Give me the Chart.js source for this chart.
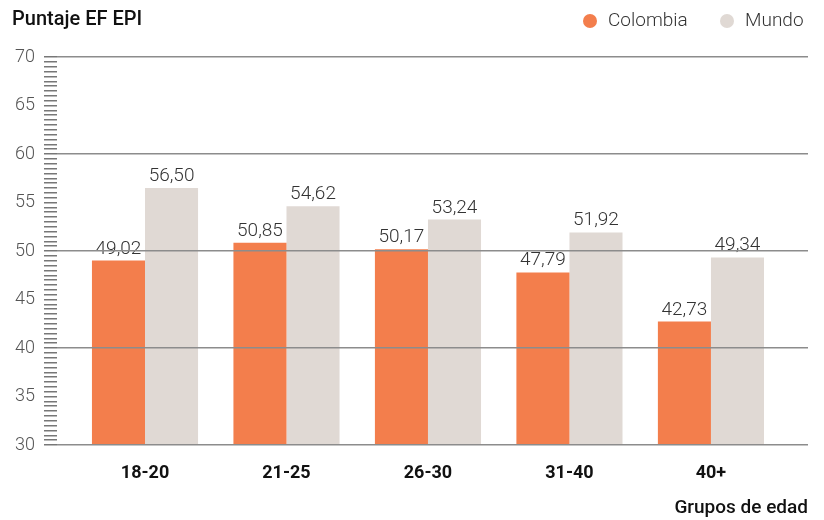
<!DOCTYPE html>
<html>
<head>
<meta charset="utf-8">
<script src="https://cdn.jsdelivr.net/npm/chart.js@4/dist/chart.umd.min.js"></script>
<style>
  html, body { margin: 0; padding: 0; background: #fff; }
  #wrap { width: 824px; height: 520px; }
</style>
</head>
<body>
<div id="wrap"><canvas id="epiChart"></canvas></div>
<script>
// datos del gráfico
const grupos = ['18-20', '21-25', '26-30', '31-40', '40+'];
const colombia = [49.02, 50.85, 50.17, 47.79, 42.73];
const mundo = [56.50, 54.62, 53.24, 51.92, 49.34];
const yTicksMain = [30, 35, 40, 45, 50, 55, 60, 65, 70];

const naranja = '#F37E4C';
const gris = '#E0D9D4';
const fuente = 'Roboto, "DejaVu Sans", sans-serif';

function fmt(v) {
  return v.toFixed(2).replace('.', ',');
}

// etiquetas encima de las barras, título y leyenda superior
const extras = {
  id: 'extras',
  afterDatasetsDraw(chart) {
    const ctx = chart.ctx;
    ctx.save();
    ctx.font = '300 19px ' + fuente;
    ctx.fillStyle = '#333';
    ctx.textAlign = 'center';
    ctx.textBaseline = 'alphabetic';
    chart.data.datasets.forEach((ds, i) => {
      chart.getDatasetMeta(i).data.forEach((bar, j) => {
        ctx.fillText(fmt(ds.data[j].y), bar.x, bar.y - 7);
      });
    });
    ctx.restore();
  },
  afterDraw(chart) {
    const ctx = chart.ctx;
    ctx.save();
    ctx.font = '500 20px ' + fuente;
    ctx.fillStyle = '#111';
    ctx.textAlign = 'left';
    ctx.textBaseline = 'middle';
    ctx.fillText('Puntaje EF EPI', 12, 20);

    // leyenda
    ctx.font = '300 19px ' + fuente;
    const items = [[590, 608], [727, 745]];
    chart.data.datasets.forEach((ds, i) => {
      const [cx, tx] = items[i];
      ctx.beginPath();
      ctx.arc(cx, 21, 7, 0, Math.PI * 2);
      ctx.fillStyle = ds.backgroundColor;
      ctx.fill();
      ctx.fillStyle = '#333';
      ctx.fillText(ds.label, tx, 21);
    });
    ctx.restore();
  }
};

const ctx = document.getElementById('epiChart').getContext('2d');
const epiChart = new Chart(ctx, {
  type: 'bar',
  data: {
    datasets: [
      {
        label: 'Colombia',
        data: colombia.map((v, i) => ({ x: i, y: v })),
        backgroundColor: naranja
      },
      {
        label: 'Mundo',
        data: mundo.map((v, i) => ({ x: i, y: v })),
        backgroundColor: gris
      }
    ]
  },
  options: {
    responsive: true,
    maintainAspectRatio: false,
    animation: false,
    events: [],
    layout: { padding: { left: 0, right: 16, top: 57, bottom: 0 } },
    datasets: {
      bar: { categoryPercentage: 0.75, barPercentage: 1.0 }
    },
    plugins: {
      tooltip: { enabled: false },
      legend: { display: false }
    },
    scales: {
      x: {
        type: 'linear',
        offset: false,
        min: -0.622,
        max: 4.686,
        grid: { display: false },
        border: { display: false },
        ticks: {
          stepSize: 1,
          includeBounds: false,
          autoSkip: false,
          padding: 10,
          color: '#111',
          font: { family: fuente, size: 18, weight: 'bold' },
          callback: (v) => (Number.isInteger(v) && grupos[v]) ? grupos[v] : ''
        },
        title: {
          display: true,
          text: 'Grupos de edad',
          align: 'end',
          color: '#111',
          font: { family: fuente, size: 19, weight: '500' },
          padding: { top: 8, bottom: 0 }
        },
        afterFit: (scale) => { scale.height = 75; }
      },
      y: {
        min: 30,
        max: 70,
        border: { display: false },
        grid: {
          z: 1,
          lineWidth: 1.5,
          tickLength: 13,
          tickWidth: 1.5,
          tickColor: '#777',
          color: (c) => (c.tick && c.tick.value % 10 === 0) ? '#8c8c8c' : 'rgba(0,0,0,0)'
        },
        ticks: {
          stepSize: 0.5,
          maxTicksLimit: 200,
          autoSkip: false,
          padding: 9,
          color: '#555',
          font: { family: fuente, size: 18, weight: '300' },
          callback: (v) => yTicksMain.includes(v) ? String(v) : ''
        },
        afterFit: (scale) => { scale.width = 57; }
      }
    }
  },
  plugins: [extras]
});
</script>
</body>
</html>
